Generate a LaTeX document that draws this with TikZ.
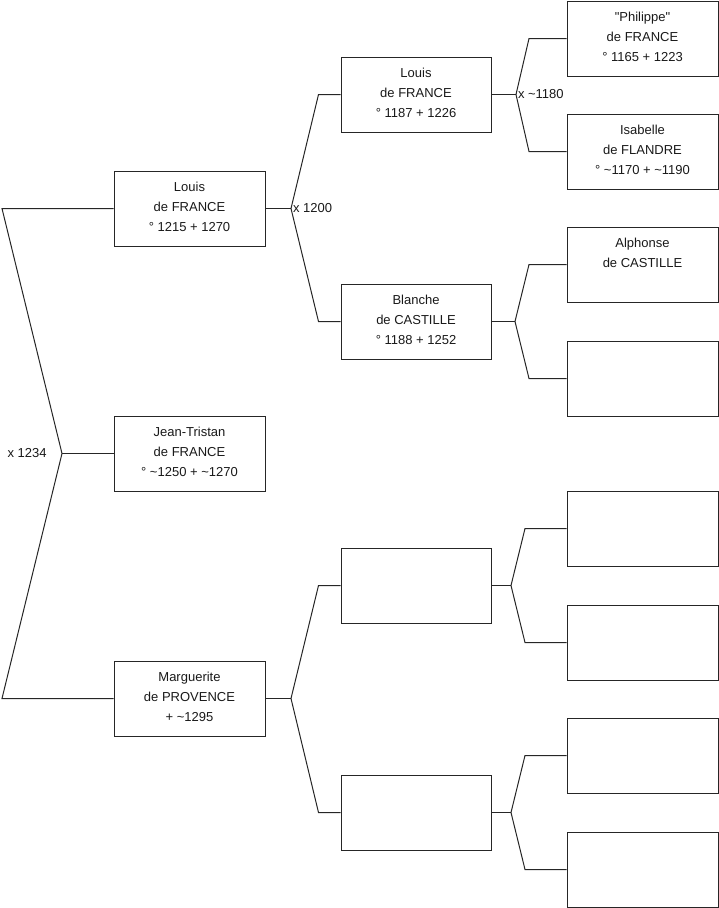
\documentclass[tikz,border=0pt]{standalone}
\usepackage{fontspec}
\setmainfont{Liberation Sans}[Ligatures=TeXOff]
\begin{document}
\begin{tikzpicture}[x=1pt,y=-1pt,line width=1pt,
  personbox/.style={draw=black!85,minimum width=151pt,minimum height=75pt,inner sep=0pt},
  persontext/.style={anchor=north,align=center,inner sep=0pt,font=\fontsize{13}{20}\selectfont,text=black!90},
  marriage/.style={anchor=west,inner sep=0pt,font=\fontsize{13}{15}\selectfont,text=black!90},
  link/.style={draw=black!85,line width=1pt}]
\useasboundingbox (0,0) rectangle (719,908);
% level 1
\node[personbox] (a1) at (189.5,208.5) {};
\node[personbox] (a2) at (189.5,453.5) {};
\node[personbox] (a3) at (189.5,698.5) {};
% level 2
\node[personbox,minimum width=150pt] (b1) at (416,94.5) {};
\node[personbox,minimum width=150pt] (b2) at (416,321.5) {};
\node[personbox,minimum width=150pt] (b3) at (416,585.5) {};
\node[personbox,minimum width=150pt] (b4) at (416,812.5) {};
% level 3
\node[personbox] (c1) at (642.5,38.5) {};
\node[personbox] (c2) at (642.5,151.5) {};
\node[personbox] (c3) at (642.5,264.5) {};
\node[personbox] (c4) at (642.5,378.5) {};
\node[personbox] (c5) at (642.5,528.5) {};
\node[personbox] (c6) at (642.5,642.5) {};
\node[personbox] (c7) at (642.5,755.5) {};
\node[personbox] (c8) at (642.5,869.5) {};
% texts
\node[persontext] (ta1) at ([yshift=-11.5pt]a1.north) {Louis\\de FRANCE\\° 1215 + 1270};
\node[persontext] (ta2) at ([yshift=-11.5pt]a2.north) {Jean-Tristan\\de FRANCE\\° \textasciitilde1250 + \textasciitilde1270};
\node[persontext] (ta3) at ([yshift=-11.5pt]a3.north) {Marguerite\\de PROVENCE\\+ \textasciitilde1295};
\node[persontext] (tb1) at ([yshift=-11.5pt]b1.north) {Louis\\de FRANCE\\° 1187 + 1226};
\node[persontext] (tb2) at ([yshift=-11.5pt]b2.north) {Blanche\\de CASTILLE\\° 1188 + 1252};
\node[persontext] (tc1) at ([yshift=-11.5pt]c1.north) {"Philippe"\\de FRANCE\\° 1165 + 1223};
\node[persontext] (tc2) at ([yshift=-11.5pt]c2.north) {Isabelle\\de FLANDRE\\° \textasciitilde1170 + \textasciitilde1190};
\node[persontext] (tc3) at ([yshift=-11.5pt]c3.north) {Alphonse\\de CASTILLE};
% junction points
\coordinate (v0) at (62,453.5);
\coordinate (v1) at (291,208.5);
\coordinate (v2) at (291,698.5);
\coordinate (v3) at (516,94.5);
\coordinate (v4) at (515,321.5);
\coordinate (v5) at (511,585.5);
\coordinate (v6) at (511,812.5);
% connectors
\draw[link] (a1.west) -- (2,208.5) -- (v0) -- (2,698.5) -- (a3.west);
\draw[link] (v0) -- (a2.west);
\draw[link] (a1.east) -- (v1);
\draw[link] (v1) -- (318.5,94.5) -- (b1.west);
\draw[link] (v1) -- (318.5,321.5) -- (b2.west);
\draw[link] (a3.east) -- (v2);
\draw[link] (v2) -- (318.5,585.5) -- (b3.west);
\draw[link] (v2) -- (318.5,812.5) -- (b4.west);
\draw[link] (b1.east) -- (v3);
\draw[link] (v3) -- (529,38.5) -- (c1.west);
\draw[link] (v3) -- (529,151.5) -- (c2.west);
\draw[link] (b2.east) -- (v4);
\draw[link] (v4) -- (529,264.5) -- (c3.west);
\draw[link] (v4) -- (529,378.5) -- (c4.west);
\draw[link] (b3.east) -- (v5);
\draw[link] (v5) -- (525,528.5) -- (c5.west);
\draw[link] (v5) -- (525,642.5) -- (c6.west);
\draw[link] (b4.east) -- (v6);
\draw[link] (v6) -- (525,755.5) -- (c7.west);
\draw[link] (v6) -- (525,869.5) -- (c8.west);
% marriage labels
\node[marriage] (m0) at (7,453) {x 1234};
\node[marriage] (m1) at (292.5,208) {x 1200};
\node[marriage] (m2) at (517.5,94) {x \textasciitilde1180};
\end{tikzpicture}
\end{document}
